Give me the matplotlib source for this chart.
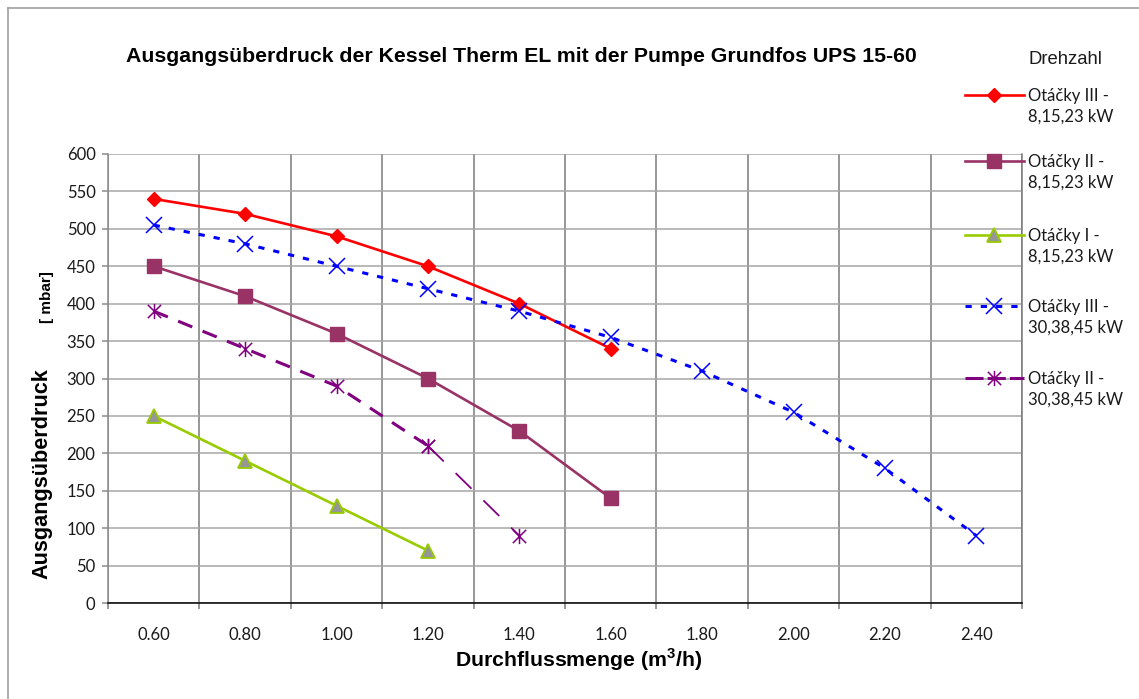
import matplotlib
matplotlib.use("Agg")
import matplotlib.pyplot as plt
from matplotlib.lines import Line2D
from matplotlib.path import Path
import numpy as np

# ---------------- data ----------------
categories = ["0.60", "0.80", "1.00", "1.20", "1.40", "1.60", "1.80", "2.00", "2.20", "2.40"]
otacky3_8 = [540, 520, 490, 450, 400, 340]
otacky2_8 = [450, 410, 360, 300, 230, 140]
otacky1_8 = [250, 190, 130, 70]
otacky3_30 = [505, 480, 450, 420, 390, 355, 310, 255, 180, 90]
otacky2_30 = [390, 340, 290, 210, 90]
labels = ["Otáčky III -\n8,15,23 kW", "Otáčky II -\n8,15,23 kW", "Otáčky I -\n8,15,23 kW",
          "Otáčky III -\n30,38,45 kW", "Otáčky II -\n30,38,45 kW"]
title = "Ausgangsüberdruck der Kessel Therm EL mit der Pumpe Grundfos UPS 15-60"
yticks = list(range(0, 601, 50))

W, H = 1139, 699
fig = plt.figure(figsize=(W / 100, H / 100), dpi=100)
fig.patch.set_facecolor("white")
plt.rcParams["lines.scale_dashes"] = False

def fx(px):
    return px / W

def fy(py):
    return 1 - py / H

ax = fig.add_axes([fx(108), fy(603), fx(1022) - fx(108), fy(154) - fy(603)])
ax.set_xlim(-0.5, len(categories) - 0.5)
ax.set_ylim(0, 600)

# grid
ax.set_yticks(yticks)
ax.set_yticklabels([str(v) for v in yticks])
ax.yaxis.grid(True, color="#A6A6A6", lw=1.1)
ax.set_xticks(np.arange(len(categories)))
ax.set_xticklabels(categories)
ax.set_xticks(np.arange(len(categories) + 1) - 0.5, minor=True)
ax.xaxis.grid(True, which="minor", color="#7A7A7A", lw=1.1)
ax.xaxis.grid(False, which="major")
ax.set_axisbelow(True)

ax.tick_params(axis="x", which="major", length=0, pad=17)
ax.tick_params(axis="x", which="minor", length=4, width=1.1, color="#7A7A7A", direction="out")
ax.tick_params(axis="y", length=4, width=1.1, color="#8C8C8C", pad=5)
for lab in ax.get_xticklabels() + ax.get_yticklabels():
    lab.set_fontfamily("Lato")
    lab.set_fontsize(12)
    lab.set_color("#1A1A1A")

ax.spines["top"].set_visible(False)
ax.spines["right"].set_color("#7A7A7A")
ax.spines["right"].set_linewidth(1.1)
ax.spines["left"].set_color("#8C8C8C")
ax.spines["left"].set_linewidth(1.1)
ax.spines["bottom"].set_color("black")
ax.spines["bottom"].set_linewidth(1.1)

# asterisk marker: X plus vertical bar
ast = Path([(-1, -1), (1, 1), (-1, 1), (1, -1), (0, -1.15), (0, 1.15)],
           [Path.MOVETO, Path.LINETO, Path.MOVETO, Path.LINETO, Path.MOVETO, Path.LINETO])

# series
s1 = dict(color="#FF0000", lw=1.9, marker="D", ms=7.5, mfc="#FF0000", mec="#FF0000")
s2 = dict(color="#993366", lw=1.9, marker="s", ms=10, mfc="#993366", mec="#993366")
s3 = dict(color="#99CC00", lw=1.9, marker="^", ms=10, mfc="#969696", mec="#99CC00", mew=1.3)
s4 = dict(color="#0000FF", lw=2.2, ls=(0, (4.5, 6.5)), marker="x", ms=11, mec="#0000FF", mew=1.1)
s5 = dict(color="#800080", lw=2.2, ls=(0, (11, 8)), marker=ast, ms=11, mec="#800080", mew=1.1)

ax.plot(np.arange(len(otacky3_8)), otacky3_8, **s1, zorder=3)
ax.plot(np.arange(len(otacky2_8)), otacky2_8, **s2, zorder=3)
ax.plot(np.arange(len(otacky1_8)), otacky1_8, **s3, zorder=3)
ax.plot(np.arange(len(otacky3_30)), otacky3_30, **s4, zorder=3)
n5 = len(otacky2_30)
ax.plot(np.arange(n5 - 1), otacky2_30[:-1], **s5, zorder=3)
s5b = dict(s5)
s5b.update(lw=1.3, ls=(0, (16, 12)))
ax.plot(np.arange(n5 - 2, n5), otacky2_30[-2:], **s5b, zorder=3)

# titles
fig.text(fx(521), fy(57), title, ha="center", va="center",
         fontfamily="Liberation Sans", fontweight="bold", fontsize=15.3)
fig.text(fx(579), fy(660), r"Durchflussmenge (m$^\mathregular{3}$/h)", ha="center", va="center",
         fontfamily="Liberation Sans", fontweight="bold", fontsize=15.3)
fig.text(fx(42), fy(474), "Ausgangsüberdruck", ha="center", va="center", rotation=90,
         fontfamily="Liberation Sans", fontweight="bold", fontsize=15.6)
fig.text(fx(47), fy(297), "[ mbar]", ha="center", va="center", rotation=90,
         fontfamily="Liberation Sans", fontweight="bold", fontsize=11)

# legend (manual)
fig.text(fx(1028), fy(59), "Drehzahl", ha="left", va="center",
         fontfamily="Liberation Sans", fontsize=13.3, color="#1A1A1A")
leg_y = [95, 161, 235, 306, 378]
styles = [s1, s2, s3, s4, s5]
for y, st, lab in zip(leg_y, styles, labels):
    st2 = dict(st)
    if st is s5:
        st2["ls"] = (0, (13, 3))
    ln = Line2D([fx(965), fx(994), fx(1024)], [fy(y)] * 3, transform=fig.transFigure,
                markevery=[1], **st2)
    fig.add_artist(ln)
    fig.text(fx(1028), fy(y + 11), lab, ha="left", va="center", linespacing=1.35,
             fontfamily="Lato", fontsize=12, color="#1A1A1A")

# outer frame (top and left visible)
fig.add_artist(Line2D([fx(8), 1], [fy(8), fy(8)], transform=fig.transFigure, color="#A0A0A0", lw=1.2))
fig.add_artist(Line2D([fx(8), fx(8)], [fy(8), 0], transform=fig.transFigure, color="#A0A0A0", lw=1.2))

fig.savefig("out.png", dpi=100, facecolor="white")
